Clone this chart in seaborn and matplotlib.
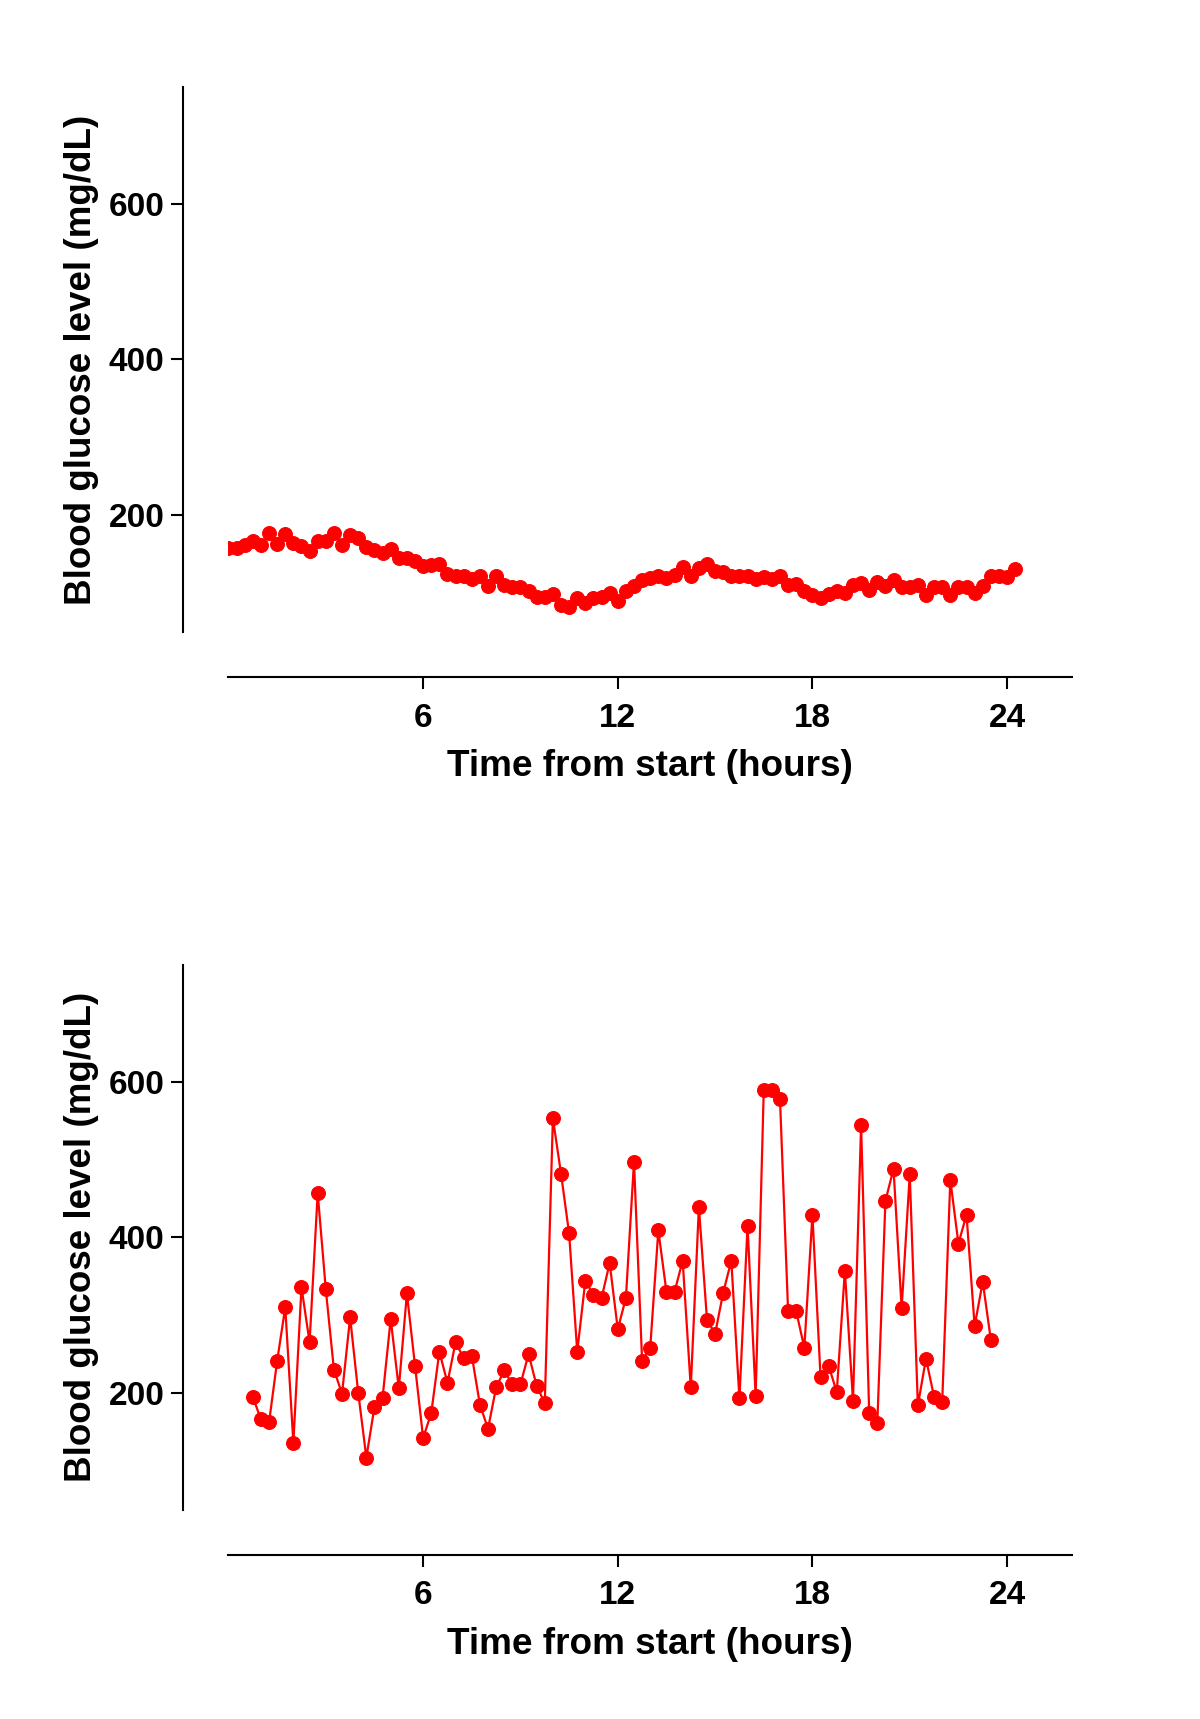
import numpy as np
import matplotlib.pyplot as plt
import seaborn as sns

# readings every 15 minutes (hours from start)
top_hours = np.arange(0, 24.5, 0.25)
bottom_hours = np.arange(0.75, 23.75, 0.25)

# stable patient (mg/dL)
top_glucose = [157, 157, 162, 166, 162, 177, 163, 176, 164, 160, 154, 167, 166, 177,
               162, 174, 171, 159, 155, 151, 156, 145, 145, 141, 135, 136, 137, 124,
               121, 121, 118, 122, 109, 121, 110, 107, 108, 103, 95, 95, 99, 84, 82,
               93, 87, 93, 95, 100, 90, 102, 109, 117, 119,
               122, 119, 123, 133, 121, 132, 137, 128, 127, 121, 121, 121, 118, 120,
               118, 121, 110, 111, 102, 97, 93, 99, 102, 100, 110, 112, 104, 114,
               109, 117, 108, 107, 110, 97, 108, 107, 97, 108, 107, 100, 109, 122,
               121, 120, 131]

# unstable patient (mg/dL)
bottom_glucose = [195, 166, 162, 241, 310, 136, 336, 265, 457, 333, 230, 199, 297, 200,
                  117, 182, 194, 295, 206, 328, 235, 142, 174, 253, 213, 265, 245, 248,
                  185, 154, 207, 229, 211, 211, 250, 209, 187, 553, 482, 405, 253, 344,
                  326, 322, 367, 282, 322, 497, 241, 258, 409, 330, 330, 370, 207, 439,
                  294, 276, 329, 370, 193, 415, 196, 590, 589, 578, 305, 305, 258, 429,
                  220, 235, 201, 357, 190, 544, 174, 161, 447, 488, 309, 481, 184, 244,
                  195, 188, 474, 392, 429, 286, 343, 268]

x_ticks = [6, 12, 18, 24]
y_ticks = [200, 400, 600]

sns.set_style('ticks')
plt.rcParams['font.family'] = ['Liberation Sans', 'DejaVu Sans']
plt.rcParams['font.weight'] = 'bold'
plt.rcParams['text.color'] = 'black'
plt.rcParams['axes.labelcolor'] = 'black'
plt.rcParams['xtick.color'] = 'black'
plt.rcParams['ytick.color'] = 'black'

fig = plt.figure(figsize=(12, 17.19), dpi=100)
ax1 = fig.add_axes([0.1904, 0.6325, 0.7029, 0.3168])
ax2 = fig.add_axes([0.1904, 0.1218, 0.7029, 0.3168])

for ax, hours, glucose in [(ax1, top_hours, top_glucose), (ax2, bottom_hours, bottom_glucose)]:
    sns.lineplot(x=hours, y=glucose, ax=ax, color='red', marker='o', markersize=10,
                 markeredgecolor='red', linewidth=1.6)
    ax.set_xlim(0, 26)
    ax.set_ylim(50, 750)
    ax.set_xticks(x_ticks)
    ax.set_yticks(y_ticks)
    for side in ['top', 'right']:
        ax.spines[side].set_visible(False)
    for side in ['left', 'bottom']:
        ax.spines[side].set_position(('outward', 32.4))
        ax.spines[side].set_linewidth(1.5)
        ax.spines[side].set_color('black')
    ax.tick_params(axis='both', length=8.6, width=1.5, labelsize=24)
    ax.tick_params(axis='x', pad=10)
    ax.tick_params(axis='y', pad=5)
    for lab in ax.get_xticklabels() + ax.get_yticklabels():
        lab.set_fontweight('bold')
    ax.set_xlabel('Time from start (hours)', fontsize=26.6, fontweight='bold', labelpad=11)
    ax.set_ylabel('Blood glucose level (mg/dL)', fontsize=26.5, fontweight='bold', labelpad=7)

fig.savefig('out.png', dpi=100)
